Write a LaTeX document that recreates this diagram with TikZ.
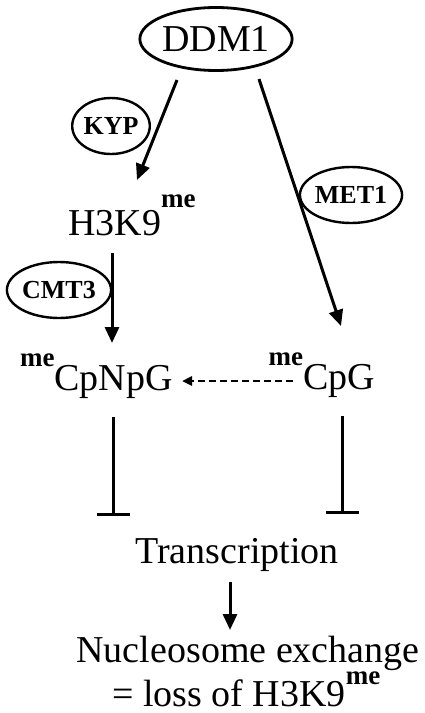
\documentclass[tikz,border=0pt]{standalone}
\usepackage{fontspec}
\setmainfont{Liberation Serif}
\usetikzlibrary{arrows.meta,shapes.geometric}
\newcommand\mysup{{\bfseries\fontsize{27}{28}\selectfont me}}
\begin{document}
\begin{tikzpicture}[x=1pt,y=-1pt,
  lbl/.style={inner sep=0pt, font=\fontsize{38}{40}\selectfont},
  enz/.style={ellipse, draw, line width=2.4pt, inner sep=0pt, font=\bfseries\fontsize{26}{28}\selectfont},
  arr/.style={line width=3pt, -{Triangle[length=16pt,width=14pt]}},
  inh/.style={line width=3pt, -{Bar[width=33pt,line width=3.5pt]}},
  dasharr/.style={line width=2.5pt, dash pattern=on 7pt off 4pt, -{Triangle[length=10pt,width=9pt]}}
]
\useasboundingbox (0,0) rectangle (424,713);
\node[enz, line width=2.8pt, minimum width=128pt, minimum height=63pt, font=\fontsize{38}{40}\selectfont] (ddm) at (216,39) {DDM1};
\node[enz, minimum width=75pt, minimum height=56pt] (kyp) at (111,126) {KYP};
\node[enz, minimum width=88pt, minimum height=56pt] (cmt) at (59,290) {CMT3};
\node[enz, minimum width=88pt, minimum height=56pt] (met) at (351,195) {MET1};
\node[lbl, anchor=base west] (h3) at (68,235) {H3K9\raisebox{28pt}{\mysup}};
\node[lbl, anchor=base east] (cpnpg) at (173,390) {\raisebox{24pt}{\mysup}CpNpG};
\node[lbl, anchor=base east] (cpg) at (375,389) {\raisebox{24pt}{\mysup}CpG};
\node[lbl, anchor=base] (tr) at (237,563) {Transcription};
\node[lbl, anchor=base] (nuc) at (248,662) {Nucleosome exchange};
\node[lbl, anchor=base west] (loss) at (112,706) {= loss of H3K9\raisebox{22pt}{\mysup}};
\coordinate (a1s) at (177,80); \coordinate (a1e) at (137,180);
\coordinate (a2s) at (259,79); \coordinate (a2e) at (341,326);
\coordinate (a3s) at (112,253); \coordinate (a3e) at (112,343);
\coordinate (ds) at (293,381); \coordinate (de) at (182,381);
\coordinate (t1s) at (113,417); \coordinate (t1e) at (113,516);
\coordinate (t2s) at (342,416); \coordinate (t2e) at (342,514);
\coordinate (t3s) at (230,582); \coordinate (t3e) at (230,630);
\draw[arr] (a1s) -- (a1e);
\draw[arr] (a2s) -- (a2e);
\draw[arr] (a3s) -- (a3e);
\draw[dasharr] (ds) -- (de);
\draw[inh] (t1s) -- (t1e);
\draw[inh] (t2s) -- (t2e);
\draw[arr] (t3s) -- (t3e);
\end{tikzpicture}
\end{document}
